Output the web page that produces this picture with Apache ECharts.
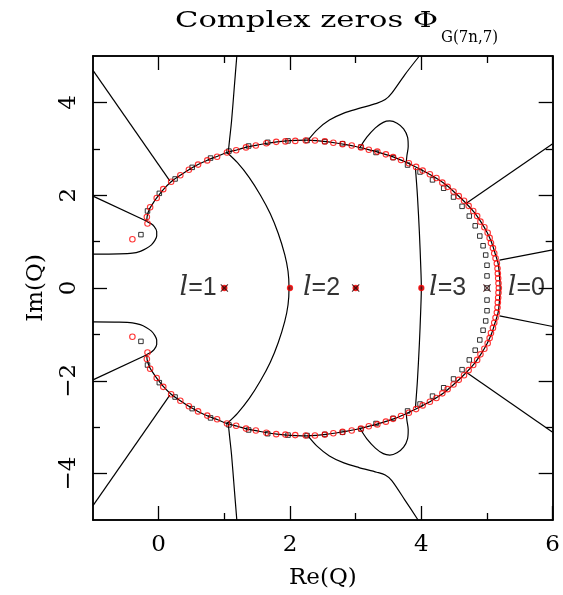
<!DOCTYPE html>
<html><head><meta charset="utf-8">
<script src="https://cdn.jsdelivr.net/npm/echarts@6/dist/echarts.min.js"></script>
<style>html,body{margin:0;padding:0;background:#fff}#c{width:563px;height:595px}</style>
</head><body><div id="c"></div>
<script>
// ---- axes / ticks ----
const xRange = [-1, 6];
const yRange = [-5, 5];
const xTicksMajor = [0, 2, 4, 6];
const xTicksMinor = [1, 3, 5];
const yTicksMajor = [-4, -2, 0, 2, 4];
const yTicksMinor = [-3, -1, 1, 3];

// ---- zeros (red circles, larger n) ----
const redUpper = [[-0.40,1.05],[-0.17,1.39],[-0.18,1.53],[-0.13,1.74],[-0.03,1.94],[0.07,2.13],[0.19,2.29],[0.33,2.43],[0.46,2.55],[0.60,2.66],[0.74,2.75],[0.89,2.83],[1.04,2.92],[1.18,2.97],[1.33,3.03],[1.48,3.07],[1.64,3.12],[1.79,3.15],[1.93,3.16],[2.08,3.17],[2.24,3.18],[2.38,3.18],[2.53,3.16],[2.66,3.13],[2.80,3.10],[2.94,3.07],[3.08,3.03],[3.20,2.98],[3.33,2.94],[3.46,2.88],[3.57,2.82],[3.69,2.76],[3.81,2.69],[3.92,2.61],[4.02,2.53],[4.13,2.45],[4.23,2.37],[4.32,2.27],[4.40,2.18],[4.49,2.08],[4.57,1.98],[4.65,1.88],[4.72,1.77],[4.79,1.66],[4.85,1.55],[4.90,1.43],[4.96,1.31],[5.01,1.19],[5.04,1.08],[5.06,0.97],[5.09,0.86],[5.11,0.75],[5.13,0.64],[5.15,0.53],[5.16,0.42],[5.165,0.31],[5.17,0.21],[5.175,0.10],[5.18,0.0]];
const redLower = [[-0.40,-1.05],[-0.17,-1.39],[-0.18,-1.53],[-0.13,-1.74],[-0.03,-1.94],[0.07,-2.13],[0.19,-2.29],[0.33,-2.43],[0.46,-2.55],[0.60,-2.66],[0.74,-2.75],[0.89,-2.83],[1.04,-2.92],[1.18,-2.97],[1.33,-3.03],[1.48,-3.07],[1.64,-3.12],[1.79,-3.15],[1.93,-3.16],[2.08,-3.17],[2.24,-3.18],[2.38,-3.18],[2.53,-3.16],[2.66,-3.13],[2.80,-3.10],[2.94,-3.07],[3.08,-3.03],[3.20,-2.98],[3.33,-2.94],[3.46,-2.88],[3.57,-2.82],[3.69,-2.76],[3.81,-2.69],[3.92,-2.61],[4.02,-2.53],[4.13,-2.45],[4.23,-2.37],[4.32,-2.27],[4.40,-2.18],[4.49,-2.08],[4.57,-1.98],[4.65,-1.88],[4.72,-1.77],[4.79,-1.66],[4.85,-1.55],[4.90,-1.43],[4.96,-1.31],[5.01,-1.19],[5.04,-1.08],[5.06,-0.97],[5.09,-0.86],[5.11,-0.75],[5.13,-0.64],[5.15,-0.53],[5.16,-0.42],[5.165,-0.31],[5.17,-0.21],[5.175,-0.10]];

// ---- zeros (black squares, smaller n) ----
const blackUpper = [[-0.27,1.15],[-0.17,1.66],[0.01,2.04],[0.25,2.35],[0.51,2.60],[0.79,2.80],[1.07,2.95],[1.37,3.06],[1.66,3.14],[1.97,3.17],[2.26,3.18],[2.53,3.155],[2.80,3.11],[3.08,3.04],[3.31,2.92],[3.57,2.81],[3.79,2.65],[3.98,2.50],[4.17,2.33],[4.34,2.15],[4.49,1.96],[4.62,1.76],[4.73,1.55],[4.82,1.34],[4.89,1.12],[4.94,0.91],[4.98,0.71],[5.00,0.49],[5.00,0.26],[5.00,0.0]];
const blackLower = [[-0.27,-1.15],[-0.17,-1.66],[0.01,-2.04],[0.25,-2.35],[0.51,-2.60],[0.79,-2.80],[1.07,-2.95],[1.37,-3.06],[1.66,-3.14],[1.97,-3.17],[2.26,-3.18],[2.53,-3.155],[2.80,-3.11],[3.08,-3.04],[3.31,-2.92],[3.57,-2.81],[3.79,-2.65],[3.98,-2.50],[4.17,-2.33],[4.34,-2.15],[4.49,-1.96],[4.62,-1.76],[4.73,-1.55],[4.82,-1.34],[4.89,-1.12],[4.94,-0.91],[4.98,-0.71],[5.00,-0.49],[5.00,-0.26]];

// ---- special points on the real axis ----
const axisZeros = [[1,0],[2,0],[3,0],[4,0]];
const axisCrosses = [[1,0],[3,0],[5,0]];
const lLabels = ['l=1','l=2','l=3','l=0'];

// ---- limiting curves (black lines) ----
const curveOuterUpper = [[-1,0.73],[-0.6,0.735],[-0.4,0.75],[-0.28,0.79],[-0.19,0.85],[-0.11,0.93],[-0.06,1.02],[-0.03,1.12],[-0.03,1.22],[-0.07,1.33],[-0.12,1.39],[-0.18,1.44],[-0.175,1.55],[-0.14,1.70],[-0.08,1.84],[-0.03,1.94],[0.07,2.12],[0.19,2.29],[0.33,2.43],[0.46,2.55],[0.6,2.66],[0.75,2.76],[0.9,2.84],[1.04,2.92],[1.2,2.98],[1.35,3.04],[1.5,3.08],[1.65,3.12],[1.8,3.15],[1.95,3.17],[2.1,3.18],[2.25,3.185],[2.4,3.175],[2.55,3.155],[2.7,3.125],[2.85,3.09],[3.0,3.05],[3.15,3.0],[3.3,2.945],[3.45,2.88],[3.6,2.81],[3.75,2.72],[3.9,2.62],[4.05,2.51],[4.2,2.39],[4.35,2.25],[4.5,2.07],[4.65,1.87],[4.8,1.64],[4.9,1.44],[5.0,1.2],[5.07,0.98],[5.12,0.76],[5.17,0.52],[5.19,0.26],[5.2,0]];
const curveOuterLower = [[-1,-0.73],[-0.6,-0.735],[-0.4,-0.75],[-0.28,-0.79],[-0.19,-0.85],[-0.11,-0.93],[-0.06,-1.02],[-0.03,-1.12],[-0.03,-1.22],[-0.07,-1.33],[-0.12,-1.39],[-0.18,-1.44],[-0.175,-1.55],[-0.14,-1.70],[-0.08,-1.84],[-0.03,-1.94],[0.07,-2.12],[0.19,-2.29],[0.33,-2.43],[0.46,-2.55],[0.6,-2.66],[0.75,-2.76],[0.9,-2.84],[1.04,-2.92],[1.2,-2.98],[1.35,-3.04],[1.5,-3.08],[1.65,-3.12],[1.8,-3.15],[1.95,-3.17],[2.1,-3.18],[2.25,-3.185],[2.4,-3.175],[2.55,-3.155],[2.7,-3.125],[2.85,-3.09],[3.0,-3.05],[3.15,-3.0],[3.3,-2.945],[3.45,-2.88],[3.6,-2.81],[3.75,-2.72],[3.9,-2.62],[4.05,-2.51],[4.2,-2.39],[4.35,-2.25],[4.5,-2.07],[4.65,-1.87],[4.8,-1.64],[4.9,-1.44],[5.0,-1.2],[5.07,-0.98],[5.12,-0.76],[5.17,-0.52],[5.19,-0.26],[5.2,0]];
const curveLeftUpper = [[-1,1.98],[-0.18,1.44]];
const curveLeftLower = [[-1,-1.98],[-0.18,-1.44]];
const curveDiagUpper = [[-1,4.69],[0.17,2.31]];
const curveDiagLower = [[-1,-4.69],[0.17,-2.31]];
const curveNearVertUpper = [[1.19,5.0],[1.15,4.3],[1.11,3.6],[1.08,3.2],[1.06,2.93]];
const curveNearVertLower = [[1.19,-5.0],[1.15,-4.3],[1.11,-3.6],[1.08,-3.2],[1.06,-2.93]];
const curveInnerArc = [[1.04,2.92],[1.2,2.7],[1.38,2.38],[1.55,2.0],[1.7,1.6],[1.82,1.18],[1.92,0.72],[1.97,0.36],[1.985,0],[1.97,-0.36],[1.92,-0.72],[1.82,-1.18],[1.7,-1.6],[1.55,-2.0],[1.38,-2.38],[1.2,-2.7],[1.04,-2.92]];
const curveTopUpper = [[2.27,3.18],[2.42,3.42],[2.6,3.62],[2.82,3.77],[3.05,3.87],[3.32,3.98],[3.45,4.06],[3.55,4.2],[3.75,4.6],[3.97,5.0]];
const curveTopLower = [[2.27,-3.18],[2.42,-3.42],[2.6,-3.62],[2.82,-3.77],[3.05,-3.87],[3.32,-3.97],[3.45,-4.03],[3.55,-4.15],[3.75,-4.57],[3.95,-5.0]];
const curveLoopUpper = [[3.07,3.04],[3.17,3.25],[3.3,3.45],[3.42,3.57],[3.52,3.6],[3.63,3.55],[3.73,3.43],[3.79,3.25],[3.8,3.05],[3.78,2.85],[3.77,2.7]];
const curveLoopLower = [[3.07,-3.04],[3.17,-3.25],[3.3,-3.45],[3.42,-3.57],[3.52,-3.6],[3.63,-3.55],[3.73,-3.43],[3.79,-3.25],[3.8,-3.05],[3.78,-2.85],[3.77,-2.7]];
const curveRe4 = [[3.91,2.58],[3.94,2.0],[3.97,1.2],[3.99,0.5],[4.0,0],[3.99,-0.5],[3.97,-1.2],[3.94,-2.0],[3.91,-2.58]];
const curveRightUpper = [[4.69,1.83],[6,3.11]];
const curveRightLower = [[4.70,-1.83],[6,-3.11]];
const curveFarRightUpper = [[5.19,0.6],[6,0.82]];
const curveFarRightLower = [[5.19,-0.6],[6,-0.83]];

const curves = [curveOuterUpper, curveOuterLower, curveLeftUpper, curveLeftLower, curveDiagUpper, curveDiagLower,
  curveNearVertUpper, curveNearVertLower, curveInnerArc, curveTopUpper, curveTopLower, curveLoopUpper, curveLoopLower,
  curveRe4, curveRightUpper, curveRightLower, curveFarRightUpper, curveFarRightLower];

// ---- styling ----
const SERIF = '"DejaVu Serif", "Liberation Serif", serif';
const labelAnchors = [[0.60,0],[2.48,0],[4.40,0],[5.60,0]];
const fmt = v => v < 0 ? '\u2212' + (-v) : String(v);

function measure(text, font) {
  const c = document.createElement('canvas').getContext('2d');
  c.font = font; return c.measureText(text).width;
}
const titleFont = '22px ' + SERIF;
const subFont = '16px ' + SERIF;
const titleText = 'Complex zeros \u03A6';
const subText = 'G(7n,7)';
const titleScale = 263 / measure(titleText, titleFont);
const subScale = 57 / measure(subText, subFont);

function mkX(pos, idx, showLabel) {
  return {
    type: 'value', min: xRange[0], max: xRange[1], position: pos, gridIndex: 0,
    axisLine: { show: true, onZero: false, lineStyle: { color: '#000', width: 1.5 } },
    axisTick: { show: true, inside: true, length: idx === 0 ? 14 : 7, lineStyle: { color: '#000', width: 1.3 },
      customValues: idx === 0 ? xTicksMajor : xTicksMinor },
    axisLabel: { show: showLabel, customValues: xTicksMajor, formatter: fmt, margin: 14,
      fontFamily: SERIF, fontSize: 23, color: '#000' },
    splitLine: { show: false }
  };
}
function mkY(pos, idx, showLabel) {
  return {
    type: 'value', min: yRange[0], max: yRange[1], position: pos, gridIndex: 0,
    axisLine: { show: true, onZero: false, lineStyle: { color: '#000', width: 1.5 } },
    axisTick: { show: true, inside: true, length: idx === 0 ? 14 : 7, lineStyle: { color: '#000', width: 1.3 },
      customValues: idx === 0 ? yTicksMajor : yTicksMinor },
    axisLabel: { show: showLabel, customValues: yTicksMajor, formatter: fmt, margin: 12, rotate: 90,
      fontFamily: SERIF, fontSize: 23, color: '#000' },
    splitLine: { show: false }
  };
}

const xAxes = [mkX('bottom', 0, true), mkX('bottom', 1, false), mkX('top', 0, false), mkX('top', 1, false)];
xAxes[0].name = 'Re(Q)'; xAxes[0].nameLocation = 'middle'; xAxes[0].nameGap = 47;
xAxes[0].nameTextStyle = { fontFamily: SERIF, fontSize: 23, color: '#000' };
const yAxes = [mkY('left', 0, true), mkY('left', 1, false), mkY('right', 0, false), mkY('right', 1, false)];
yAxes[0].name = 'Im(Q)'; yAxes[0].nameLocation = 'middle'; yAxes[0].nameGap = 45;
yAxes[0].nameTextStyle = { fontFamily: SERIF, fontSize: 23, color: '#000' };

const series = [];
curves.forEach((c, i) => series.push({
  type: 'line', name: 'curve' + i, data: c, showSymbol: false, symbol: 'none', smooth: 0.3,
  lineStyle: { color: '#000', width: 1.2 }, z: 2, silent: true
}));
series.push({ type: 'scatter', name: 'black', data: blackUpper.concat(blackLower), symbol: 'rect', symbolSize: 4.5,
  itemStyle: { color: 'rgba(0,0,0,0)', borderColor: '#000', borderWidth: 1 }, z: 3 });
series.push({ type: 'scatter', name: 'red', data: redUpper.concat(redLower), symbol: 'circle', symbolSize: 5.5,
  itemStyle: { color: 'rgba(0,0,0,0)', borderColor: '#ff0000', borderWidth: 1.1 }, z: 4 });
series.push({ type: 'scatter', name: 'axisZeros', data: axisZeros, symbol: 'circle', symbolSize: 5,
  itemStyle: { color: '#7a0000', borderColor: '#ff0000', borderWidth: 1.3 }, z: 5 });
series.push({ type: 'scatter', name: 'axisCrosses', data: axisCrosses,
  symbol: 'path://M0,1L1,0L5,4L9,0L10,1L6,5L10,9L9,10L5,6L1,10L0,9L4,5Z', symbolSize: 8,
  itemStyle: { color: '#300' }, z: 6 });
series.push({ type: 'scatter', name: 'labels', data: labelAnchors.map((p, i) => [p[0], p[1], lLabels[i]]),
  symbolSize: 1, itemStyle: { color: 'rgba(0,0,0,0)' }, z: 7,
  label: { show: true, position: 'inside',
    formatter: p => '{i|l}{n|' + p.value[2].slice(1) + '}',
    rich: { i: { fontFamily: SERIF, fontStyle: 'italic', fontSize: 27, color: '#000' },
            n: { fontFamily: '"Liberation Sans", "DejaVu Sans", sans-serif', fontSize: 25, color: '#000' } } } });

const chart = echarts.init(document.getElementById('c'), null, { renderer: 'canvas' });
chart.setOption({
  animation: false,
  backgroundColor: '#fff',
  grid: { left: 93, top: 56, width: 465, height: 465, containLabel: false },
  xAxis: xAxes,
  yAxis: yAxes,
  graphic: [
    { type: 'text', x: 175, y: 21, scaleX: titleScale, scaleY: 1,
      style: { text: titleText, font: titleFont, fill: '#000', textAlign: 'left', textVerticalAlign: 'middle' } },
    { type: 'text', x: 441, y: 38, scaleX: subScale, scaleY: 1,
      style: { text: subText, font: subFont, fill: '#000', textAlign: 'left', textVerticalAlign: 'middle' } }
  ],
  series: series
});
</script></body></html>
